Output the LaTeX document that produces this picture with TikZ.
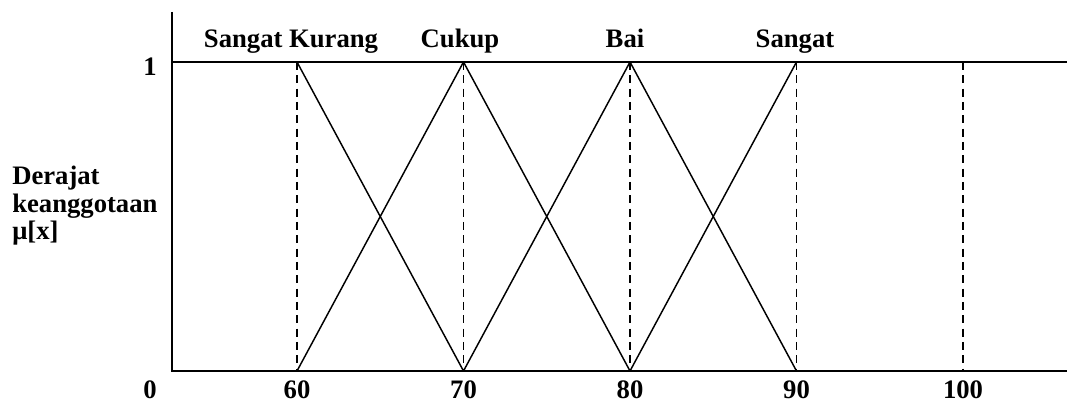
\documentclass[tikz,border=0pt]{standalone}
\usepackage{fontspec}
\setmainfont{Liberation Serif}
\usepackage{tikz}

\begin{document}
\begin{tikzpicture}[x=0.75pt,y=0.75pt,font=\fontsize{20}{20.6}\selectfont\bfseries]
	\useasboundingbox (0,0) rectangle (1067,403);
	% Gambar sumbu
	\coordinate (O) at (172,32);
	\coordinate (ytop) at (172,391);
	\coordinate (xend) at (1067,32);
	\coordinate (one) at (172,341);
	\coordinate (oneend) at (1067,341);
	\draw[line width=1.4pt] (ytop) -- (O) -- (xend);
	\draw[line width=1.4pt] (one) -- (oneend);
	\node[anchor=base] (lbl0) at (150,4) {0};
	\node[anchor=base] (lbl1) at (150,327) {1};
	\foreach \x in {60,70,80,90,100} {
		\coordinate (b\x) at ({297+(\x-60)*16.65},32);
		\coordinate (t\x) at ({297+(\x-60)*16.65},341);
		\draw[dash pattern=on 6pt off 4pt,line width=1.1pt] (t\x) -- (b\x);
		\node[anchor=base] (n\x) at ({297+(\x-60)*16.65},4) {\x};
	}
	% Gambar fungsi keanggotaan
	\foreach \p/\q in {60/70,70/80,80/90} {
		\draw[line width=1.1pt] (t\p) -- (b\q);
		\draw[line width=1.1pt] (b\p) -- (t\q);
	}
	% Label
	\node[anchor=base] (sk) at (291,355) {Sangat Kurang};
	\node[anchor=base] (ck) at (460,355) {Cukup};
	\node[anchor=base] (bi) at (625,355) {Bai};
	\node[anchor=base] (sg) at (795,355) {Sangat};
	\node[anchor=west,align=left,inner sep=0pt] (dr) at (12,197) {Derajat\\keanggotaan\\μ[x]};
\end{tikzpicture}
\end{document}
